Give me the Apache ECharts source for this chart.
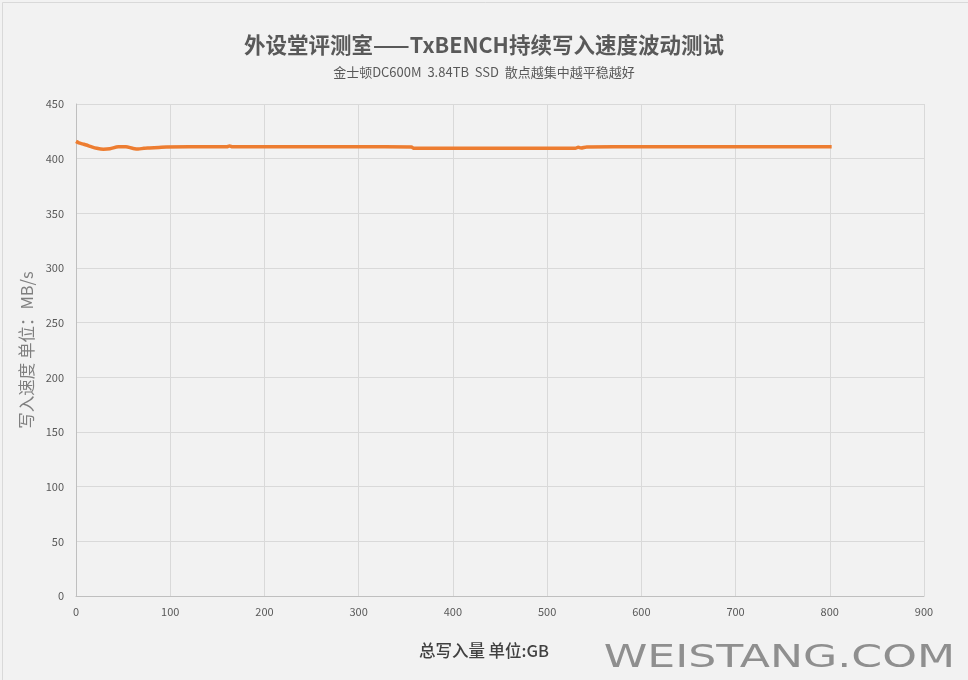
<!DOCTYPE html>
<html><head><meta charset="utf-8">
<script src="https://cdn.jsdelivr.net/npm/echarts@6/dist/echarts.min.js"></script>
<style>html,body{margin:0;padding:0;background:#f2f2f2}#c{width:968px;height:680px}</style>
</head><body><div id="c"></div>
<script>
const titleText = '外设堂评测室——TxBENCH持续写入速度波动测试';
const subtitleText = '金士顿DC600M  3.84TB  SSD  散点越集中越平稳越好';
const xAxisName = '总写入量 单位:GB';
const yAxisName = '写入速度 单位：MB/s';
const totalGB = [0, 3, 7, 11, 16, 22, 29, 36, 45, 53, 60, 66, 72, 78, 88, 96, 120, 160, 163, 166, 200, 260, 300, 356, 358, 400, 450, 500, 530, 533, 536, 542, 600, 700, 802];
const speedMBs = [415.8, 414.5, 413.5, 412.5, 411, 409.5, 408.6, 409, 410.8, 410.8, 409.5, 408.8, 409.5, 409.8, 410.3, 410.7, 410.8, 410.8, 411.6, 410.8, 410.8, 410.8, 410.8, 410.7, 409.6, 409.6, 409.6, 409.6, 409.6, 410.4, 409.8, 410.7, 410.8, 410.8, 410.8];
const xTicks = {min: 0, max: 900, interval: 100};
const yTicks = {min: 0, max: 450, interval: 50};

const chart = echarts.init(document.getElementById('c'));
chart.setOption({
  backgroundColor: '#f2f2f2',
  animation: false,
  title: {
    text: titleText, subtext: subtitleText, left: 'center', top: 29, itemGap: 10,
    textStyle: {fontFamily: 'Noto Sans CJK SC', fontSize: 21.5, fontWeight: 'bold', color: '#595959'},
    subtextStyle: {fontFamily: 'Noto Sans CJK SC', fontSize: 13, color: '#595959'}
  },
  grid: {left: 76, right: 44, top: 104, bottom: 84},
  xAxis: {
    type: 'value', min: xTicks.min, max: xTicks.max, interval: xTicks.interval,
    name: '', 
    axisLine: {show: true, lineStyle: {color: '#bfbfbf'}},
    axisTick: {show: false},
    axisLabel: {fontFamily: 'Noto Sans CJK SC', fontSize: 11, color: '#595959', margin: 10},
    splitLine: {show: true, lineStyle: {color: '#d9d9d9'}}
  },
  yAxis: {
    type: 'value', min: yTicks.min, max: yTicks.max, interval: yTicks.interval,
    name: yAxisName, nameLocation: 'middle', nameGap: 39, nameRotate: 90,
    nameTextStyle: {fontFamily: 'Noto Sans CJK SC', fontSize: 16.5, color: '#7f7f7f'},
    axisLine: {show: true, lineStyle: {color: '#bfbfbf'}},
    axisTick: {show: false},
    axisLabel: {fontFamily: 'Noto Sans CJK SC', fontSize: 11, color: '#595959', margin: 12},
    splitLine: {show: true, lineStyle: {color: '#d9d9d9'}}
  },
  series: [{
    type: 'line', data: totalGB.map((x, i) => [x, speedMBs[i]]),
    showSymbol: false, smooth: 0.3,
    lineStyle: {color: '#ed7d31', width: 3.5}
  }],
  graphic: [
    {type: 'rect', left: 0, top: 0, shape: {width: 967, height: 679}, style: {fill: 'none', stroke: '#d9d9d9', lineWidth: 1}},
    {type: 'text', left: 'center', top: 642, style: {text: xAxisName, fontFamily: 'Noto Sans CJK SC', fontSize: 16.5, fontWeight: 500, fill: '#404040'}},
    {type: 'text', right: 13, top: 643, scaleX: 1.38, style: {text: 'WEISTANG.COM', fontFamily: 'DejaVu Sans', fontSize: 32, fill: '#8f8f8f'}}
  ]
});
</script></body></html>
